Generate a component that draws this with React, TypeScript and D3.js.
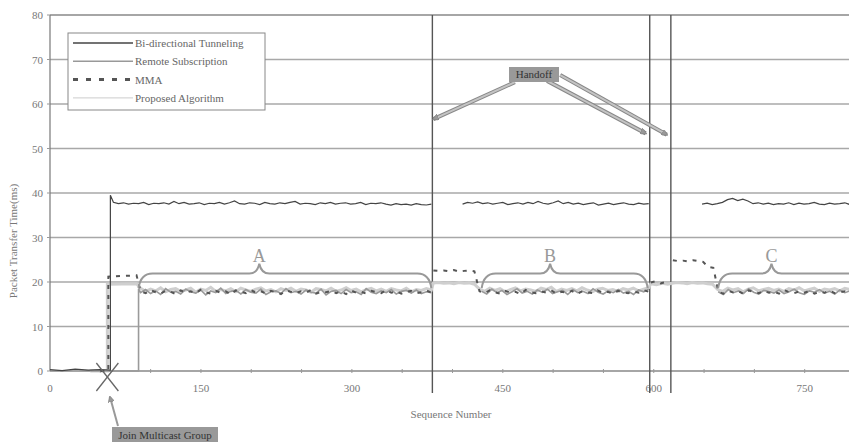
import React from 'react';
import {scaleLinear, line} from 'd3';

// packet transfer time vs sequence number
const seqTicks = [0, 150, 300, 450, 600, 750];
const minorTicks = [50, 100, 150, 200, 250, 300, 350, 400, 450, 500, 550, 600, 650, 700, 750, 800];
const timeTicks = [0, 10, 20, 30, 40, 50, 60, 70, 80];
const handoffs = [380, 596, 617];
const joinSeq = 57;

const legendNames = ['Bi-directional Tunneling', 'Remote Subscription', 'MMA', 'Proposed Algorithm'];

// [seq, ms] pairs before the steady state
const bidirLead = [[0, 0.3], [12, 0.1], [25, 0.4], [38, 0.2], [50, 0.3], [60, 0.2], [60, 39.5]];
const remoteLead = [[40, 0], [88, 0], [88, 18.5]];
const propLead = [[40, 0], [57, 0], [57, 19.5], [86, 19.6]];
const mmaLead = [[50, 0], [58, 0], [58, 21.2], [86, 21.5]];

// noisy runs, spread evenly between from..to
const bidirA = [37.9, 37.6, 37.8, 37.5, 37.7, 37.6, 37.9, 37.4, 37.7, 37.6, 37.8, 37.5, 38.1, 37.6, 37.9, 37.5, 37.6, 37.8, 37.4, 37.7, 37.6, 37.9, 37.5, 37.8, 38.2, 37.6, 37.5, 37.8, 37.7, 37.4, 37.9, 37.6, 37.5, 37.8, 37.6, 37.9, 38.1, 37.5, 37.7, 37.6, 37.4, 37.8, 37.6, 37.9, 37.5, 37.7, 37.8, 37.5, 37.6, 37.9, 37.4, 37.7, 37.6, 37.8, 37.5, 37.3, 37.6, 37.4, 37.5, 37.3, 37.6, 37.4, 37.3, 37.5];
const bidirB = [37.5, 37.9, 37.7, 38.0, 37.6, 37.8, 37.5, 37.7, 37.9, 37.4, 37.6, 37.8, 37.5, 37.9, 37.6, 38.1, 37.7, 37.5, 37.8, 38.2, 37.6, 37.9, 37.5, 37.7, 37.4, 37.6, 37.8, 37.3, 37.5, 37.7, 37.4, 37.6, 37.8, 37.5, 37.4, 37.7, 37.5, 37.6];
const bidirC = [37.5, 37.7, 37.4, 37.6, 37.9, 38.5, 38.8, 38.3, 38.6, 38.2, 37.6, 37.8, 37.5, 37.7, 37.4, 37.6, 37.5, 37.8, 37.4, 37.7, 37.5, 37.6, 37.9, 37.5, 37.4, 37.7, 37.5, 37.6, 37.8, 37.4, 37.6];

const remoteA = [17.6, 18.3, 17.4, 18.0, 17.2, 18.5, 17.7, 17.9, 17.3, 18.4, 17.8, 17.5, 18.2, 17.1, 18.0, 17.6, 18.6, 17.4, 17.9, 18.1, 17.3, 18.3, 17.7, 17.5, 18.4, 17.2, 17.8, 18.0, 17.4, 18.5, 17.6, 17.9, 17.3, 18.2, 17.7, 17.5, 18.4, 17.1, 17.9, 18.1, 17.4, 18.3, 17.6, 17.8, 17.2, 18.5, 17.7, 17.4, 18.0, 17.6, 18.3, 17.3, 17.9, 18.1, 17.5, 18.2, 17.4, 17.8, 17.6];
const remoteB = [17.9, 17.3, 18.4, 17.6, 18.1, 17.2, 17.8, 18.5, 17.5, 17.9, 17.3, 18.2, 17.7, 18.4, 17.4, 17.8, 18.1, 17.2, 18.3, 17.6, 17.9, 17.4, 18.5, 17.7, 17.3, 18.0, 17.6, 18.3, 17.5, 17.9, 17.2, 18.2, 17.8, 18.4];
const remoteC = [17.8, 17.2, 18.3, 17.6, 18.0, 17.4, 18.5, 17.7, 17.3, 18.1, 17.9, 17.5, 18.2, 17.4, 17.8, 18.4, 17.6, 17.2, 18.0, 17.7, 18.3, 17.5, 17.9, 17.3, 18.2, 17.6, 18.0, 17.4];

const propA = [18.6, 17.9, 18.4, 18.0, 18.7, 17.8, 18.3, 18.5, 17.9, 18.2, 18.6, 17.7, 18.4, 18.1, 18.8, 17.9, 18.3, 18.0, 18.5, 17.8, 18.6, 18.2, 17.9, 18.4, 18.7, 18.0, 18.3, 17.8, 18.5, 18.1, 18.6, 17.9, 18.4, 18.2, 17.7, 18.5, 18.3, 18.0, 18.6, 17.9, 18.2, 18.7, 18.1, 18.4, 17.8, 18.3, 18.6, 18.0, 18.4, 17.9, 18.5, 18.2, 18.0, 18.6, 17.8, 18.3, 18.1, 18.5, 18.2];
const propB = [19.8, 19.9, 19.7, 19.8, 19.6, 19.9, 19.7, 19.8, 19.5, 18.4, 17.9, 18.6, 18.1, 18.5, 17.8, 18.3, 18.7, 18.0, 18.4, 18.2, 17.9, 18.6, 18.3, 18.8, 17.9, 18.4, 18.1, 18.5, 18.0, 18.7, 18.2, 17.8, 18.4, 18.6, 18.1, 18.3, 17.9, 18.5, 18.2, 18.6, 18.0, 18.4, 18.7];
const propH = [19.6, 19.4, 19.7, 19.5];
const propC = [19.7, 19.9, 19.8, 19.6, 19.9, 19.7, 19.8, 19.6, 19.5, 18.3, 17.9, 18.6, 18.2, 18.5, 17.8, 18.4, 18.7, 18.0, 18.3, 18.6, 18.1, 18.4, 17.9, 18.5, 18.2, 18.7, 18.0, 18.3, 18.6, 17.9, 18.4, 18.2, 18.5, 18.0, 18.6, 18.3, 18.1];

const mmaA = [17.9, 17.5, 18.2, 17.7, 17.4, 18.0, 17.8, 17.3, 18.1, 17.6, 17.9, 17.5, 18.3, 17.7, 17.4, 18.0, 17.6, 17.9, 17.2, 18.1, 17.8, 17.5, 18.2, 17.6, 17.9, 17.4, 18.0, 17.7, 17.3, 18.1, 17.8, 17.5, 17.9, 17.6, 18.2, 17.4, 17.8, 17.7, 18.0, 17.5, 17.9, 17.3, 18.1, 17.6, 17.8, 17.4, 18.0, 17.7, 17.5, 18.2, 17.6, 17.9, 17.4, 17.8, 18.0, 17.5, 17.7, 18.1, 17.6];
const mmaB = [22.6, 22.5, 22.6, 22.4, 22.7, 22.3, 22.5, 22.6, 22.4, 17.9, 17.5, 18.1, 17.7, 17.4, 18.0, 17.6, 17.8, 17.3, 18.2, 17.7, 17.5, 17.9, 17.6, 18.1, 17.4, 17.8, 17.6, 18.0, 17.3, 17.9, 17.7, 17.5, 18.1, 17.6, 17.8, 17.4, 18.0, 17.7, 17.5, 17.9, 17.6, 18.2, 17.8];
const mmaH = [19.9, 20.2, 19.7, 20.0];
const mmaC = [24.9, 24.7, 24.8, 24.6, 24.9, 24.7, 24.5, 23.4, 23.2, 17.8, 17.4, 18.0, 17.6, 17.9, 17.3, 18.1, 17.7, 17.5, 18.0, 17.6, 17.8, 17.4, 18.2, 17.7, 17.5, 17.9, 17.6, 18.0, 17.4, 17.8, 17.6, 18.1, 17.5, 17.7, 17.9, 17.4, 17.8];

// braces over the steady periods
const braces = [
  {label: 'A', from: 88, to: 379, mid: 208},
  {label: 'B', from: 429, to: 594, mid: 497},
  {label: 'C', from: 664, to: 835, mid: 717},
];

const spread = (from: number, to: number, values: number[]) =>
  values.map((v, i) => [from + (i * (to - from)) / (values.length - 1), v]);

const bidirPaths = [
  [...bidirLead, ...spread(63, 379, bidirA)],
  spread(410, 595, bidirB),
  spread(648, 800, bidirC),
];
const remotePaths = [
  [...remoteLead, ...spread(90, 379, remoteA)],
  spread(429, 595, remoteB),
  spread(664, 800, remoteC),
];
const propPaths = [
  [...propLead, ...spread(90, 379, propA), ...spread(381, 595, propB), ...spread(597, 614, propH), ...spread(618, 800, propC)],
];
const mmaPaths = [
  [...mmaLead, ...spread(90, 379, mmaA)],
  spread(381, 595, mmaB),
  spread(597, 612, mmaH),
  spread(619, 800, mmaC),
];

const W = 849;
const H = 442;
const font = 'Liberation Serif, DejaVu Serif, serif';

const App = () => {
  const x = scaleLinear().domain([0, 800]).range([50, 855]);
  const y = scaleLinear().domain([0, 80]).range([371, 15]);
  const path = line<number[]>().x(d => x(d[0])).y(d => y(d[1]));

  const brace = (b: {from: number; to: number; mid: number}) => {
    const x0 = x(b.from), x1 = x(b.to), xm = x(b.mid);
    const ye = y(18.6), yb = y(21.9), yt = y(24.1);
    return `M${x0},${ye} Q${x0 + 2},${yb} ${x0 + 14},${yb} L${xm - 10},${yb} Q${xm - 2},${yb} ${xm},${yt} ` +
      `Q${xm + 2},${yb} ${xm + 10},${yb} L${x1 - 14},${yb} Q${x1 - 2},${yb} ${x1},${ye}`;
  };

  // handoff arrows: tail -> head in data units
  const arrows = [
    [[462, 64.9], [381, 56.6]],
    [[494, 65.2], [592, 53.4]],
    [[507, 66.5], [613, 53.1]],
  ];

  return (
    <svg width={W} height={H} style={{position: 'absolute', left: 0, top: 0, background: '#fff'}} fontFamily={font}>
      <defs>
        <marker id="ah" viewBox="0 0 10 10" refX="8" refY="5" markerWidth="3.2" markerHeight="3.2" orient="auto">
          <path d="M0,0 L10,5 L0,10 z" fill="#999" stroke="#777" strokeWidth="0.8"/>
        </marker>
      </defs>

      {/* grid */}
      {timeTicks.slice(1, -1).map(t => (
        <line key={t} x1={50} x2={W} y1={y(t)} y2={y(t)} stroke="#a8a8a8" strokeWidth={1.3}/>
      ))}
      <line x1={50} x2={W} y1={y(80)} y2={y(80)} stroke="#888" strokeWidth={1.3}/>

      {/* axes */}
      <line x1={50} x2={50} y1={y(80)} y2={y(0)} stroke="#777" strokeWidth={1.2}/>
      <line x1={50} x2={W} y1={y(0)} y2={y(0)} stroke="#888" strokeWidth={1.3}/>
      {minorTicks.map(t => (
        <line key={t} x1={x(t)} x2={x(t)} y1={y(0) - 2} y2={y(0) + 2} stroke="#999"/>
      ))}
      {timeTicks.map(t => (
        <line key={t} x1={47} x2={50} y1={y(t)} y2={y(t)} stroke="#999"/>
      ))}
      {timeTicks.map(t => (
        <text key={t} x={43} y={y(t) + 4} textAnchor="end" fontSize={11} fill="#777">{t}</text>
      ))}
      {seqTicks.map(t => (
        <text key={t} x={x(t)} y={y(0) + 21} textAnchor="middle" fontSize={11} fill="#777">{t}</text>
      ))}
      <text x={451} y={418} textAnchor="middle" fontSize={11} fill="#777">Sequence Number</text>
      <text transform={`translate(17,${241}) rotate(-90)`} textAnchor="middle" fontSize={11} fill="#777">
        Packet Transfer Time(ms)
      </text>

      {/* handoff lines */}
      {handoffs.map(h => (
        <line key={h} x1={x(h)} x2={x(h)} y1={y(80)} y2={y(0) + 22} stroke="#555" strokeWidth={1.4}/>
      ))}

      {/* series */}
      {propPaths.map((p, i) => (
        <path key={i} d={path(p) || ''} fill="none" stroke="#cfcfcf" strokeWidth={3}/>
      ))}
      {remotePaths.map((p, i) => (
        <path key={i} d={path(p) || ''} fill="none" stroke="#9a9a9a" strokeWidth={1.6}/>
      ))}
      {mmaPaths.map((p, i) => (
        <path key={i} d={path(p) || ''} fill="none" stroke="#555" strokeWidth={2} strokeDasharray="4,6"/>
      ))}
      {bidirPaths.map((p, i) => (
        <path key={i} d={path(p) || ''} fill="none" stroke="#444" strokeWidth={1.2}/>
      ))}

      {/* braces */}
      {braces.map(b => (
        <g key={b.label}>
          <path d={brace(b)} fill="none" stroke="#999" strokeWidth={2}/>
          <text x={x(b.mid)} y={y(24.4)} textAnchor="middle" fontSize={18} fill="#999">{b.label}</text>
        </g>
      ))}

      {/* legend */}
      <rect x={68} y={33} width={197} height={77} fill="#fff" stroke="#888"/>
      {legendNames.map((n, i) => {
        const ly = 43 + i * 18.3;
        const st = [
          {stroke: '#444', w: 1.5, dash: undefined},
          {stroke: '#999', w: 1.5, dash: undefined},
          {stroke: '#555', w: 3, dash: '5,8'},
          {stroke: '#ccc', w: 1, dash: undefined},
        ][i];
        return (
          <g key={n}>
            <line x1={73} x2={133} y1={ly} y2={ly} stroke={st.stroke} strokeWidth={st.w} strokeDasharray={st.dash}/>
            <text x={135} y={ly + 4} fontSize={11} fill="#666">{n}</text>
          </g>
        );
      })}

      {/* handoff annotation */}
      {arrows.map((a, i) => (
        <g key={i}>
          <line x1={x(a[0][0])} y1={y(a[0][1])} x2={x(a[1][0])} y2={y(a[1][1])} stroke="#888" strokeWidth={4}/>
          <line x1={x(a[0][0])} y1={y(a[0][1])} x2={x(a[1][0])} y2={y(a[1][1])} stroke="#c4c4c4" strokeWidth={2} markerEnd="url(#ah)"/>
        </g>
      ))}
      <rect x={509} y={67} width={50} height={15} fill="#999"/>
      <text x={534} y={78} textAnchor="middle" fontSize={11} fill="#333">Handoff</text>

      {/* join multicast group */}
      <line x1={x(joinSeq) - 11} x2={x(joinSeq) + 11} y1={y(0) - 8} y2={y(0) + 20} stroke="#666" strokeWidth={1.3}/>
      <line x1={x(joinSeq) + 11} x2={x(joinSeq) - 11} y1={y(0) - 8} y2={y(0) + 20} stroke="#666" strokeWidth={1.3}/>
      <line x1={118} y1={426} x2={110} y2={397} stroke="#999" strokeWidth={2} markerEnd="url(#ah)"/>
      <rect x={112} y={427} width={106} height={16} fill="#999"/>
      <text x={165} y={439} textAnchor="middle" fontSize={11} fill="#333">Join Multicast Group</text>
    </svg>
  );
};

export default App;
